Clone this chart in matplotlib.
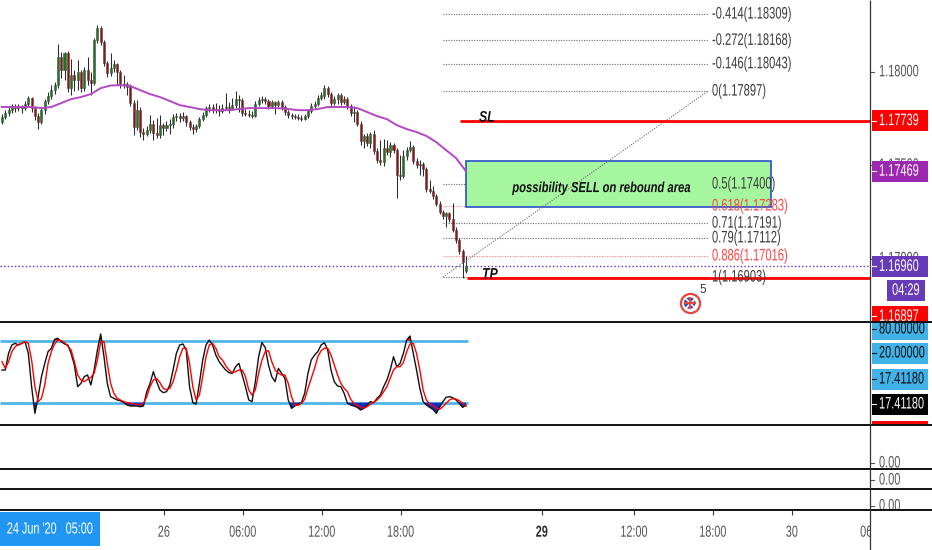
import numpy as np
import matplotlib
matplotlib.use("Agg")
import matplotlib.pyplot as plt
from matplotlib.patches import Rectangle
from matplotlib.patheffects import AbstractPathEffect
from matplotlib.transforms import Affine2D

plt.rcParams['font.family'] = ['Liberation Sans', 'DejaVu Sans']

# ---------------- data (EURUSD 15m) ----------------
opens = [
    1.17731, 1.17758, 1.17779, 1.17795, 1.17812, 1.17806, 1.17817, 1.17806, 1.17828, 1.17860,
    1.17806, 1.17763, 1.17731, 1.17795, 1.17844, 1.17870, 1.17902, 1.17929, 1.18079, 1.18009,
    1.18100, 1.17913, 1.17983, 1.17956, 1.17999, 1.17913, 1.18009, 1.17956, 1.17940, 1.18170,
    1.18234, 1.18159, 1.18047, 1.17993, 1.18020, 1.18042, 1.17999, 1.17929, 1.17935, 1.17919,
    1.17833, 1.17705, 1.17795, 1.17678, 1.17667, 1.17688, 1.17721, 1.17672, 1.17662, 1.17715,
    1.17699, 1.17715, 1.17721, 1.17758, 1.17763, 1.17753, 1.17763, 1.17731, 1.17705, 1.17694,
    1.17710, 1.17747, 1.17769, 1.17806, 1.17812, 1.17795, 1.17801, 1.17790, 1.17806, 1.17812,
    1.17806, 1.17822, 1.17854, 1.17849, 1.17779, 1.17774, 1.17769, 1.17763, 1.17828, 1.17849,
    1.17854, 1.17844, 1.17817, 1.17838, 1.17822, 1.17838, 1.17812, 1.17785, 1.17769, 1.17763,
    1.17758, 1.17753, 1.17747, 1.17763, 1.17790, 1.17817, 1.17828, 1.17860, 1.17870, 1.17913,
    1.17881, 1.17833, 1.17854, 1.17876, 1.17838, 1.17854, 1.17817, 1.17779, 1.17785, 1.17721,
    1.17630, 1.17656, 1.17619, 1.17667, 1.17576, 1.17528, 1.17517, 1.17592, 1.17571, 1.17608,
    1.17581, 1.17448, 1.17442, 1.17549, 1.17581, 1.17598, 1.17523, 1.17501, 1.17507, 1.17480,
    1.17373, 1.17362, 1.17335, 1.17293, 1.17250, 1.17228, 1.17244, 1.17212, 1.17153, 1.17100,
    1.17041, 1.16935,
]
highs = [
    1.17774, 1.17795, 1.17812, 1.17828, 1.17828, 1.17828, 1.17822, 1.17844, 1.17870, 1.17865,
    1.17817, 1.17779, 1.17806, 1.17854, 1.17892, 1.17929, 1.17945, 1.18149, 1.18106, 1.18106,
    1.18111, 1.18068, 1.18009, 1.18063, 1.18009, 1.18026, 1.18079, 1.17999, 1.18181, 1.18250,
    1.18245, 1.18170, 1.18058, 1.18100, 1.18063, 1.18047, 1.18009, 1.17983, 1.17945, 1.17935,
    1.17849, 1.17849, 1.17812, 1.17699, 1.17710, 1.17769, 1.17742, 1.17753, 1.17769, 1.17726,
    1.17737, 1.17747, 1.17774, 1.17779, 1.17779, 1.17785, 1.17769, 1.17742, 1.17721, 1.17721,
    1.17758, 1.17785, 1.17817, 1.17828, 1.17828, 1.17833, 1.17822, 1.17828, 1.17886, 1.17838,
    1.17860, 1.17897, 1.17876, 1.17860, 1.17801, 1.17795, 1.17790, 1.17844, 1.17865, 1.17870,
    1.17865, 1.17854, 1.17849, 1.17844, 1.17849, 1.17849, 1.17822, 1.17795, 1.17779, 1.17774,
    1.17774, 1.17769, 1.17774, 1.17801, 1.17833, 1.17844, 1.17876, 1.17892, 1.17929, 1.17924,
    1.17892, 1.17870, 1.17886, 1.17886, 1.17870, 1.17865, 1.17828, 1.17817, 1.17795, 1.17737,
    1.17667, 1.17672, 1.17678, 1.17688, 1.17592, 1.17635, 1.17640, 1.17635, 1.17624, 1.17619,
    1.17592, 1.17555, 1.17581, 1.17598, 1.17630, 1.17608, 1.17539, 1.17528, 1.17517, 1.17491,
    1.17421, 1.17389, 1.17346, 1.17309, 1.17260, 1.17250, 1.17250, 1.17298, 1.17170, 1.17111,
    1.17052, 1.17014,
]
lows = [
    1.17721, 1.17747, 1.17763, 1.17779, 1.17785, 1.17790, 1.17779, 1.17795, 1.17817, 1.17785,
    1.17742, 1.17694, 1.17721, 1.17774, 1.17828, 1.17854, 1.17881, 1.17913, 1.17967, 1.17956,
    1.17892, 1.17876, 1.17897, 1.17902, 1.17892, 1.17897, 1.17929, 1.17876, 1.17929, 1.18154,
    1.18143, 1.18031, 1.17972, 1.17977, 1.17999, 1.17935, 1.17913, 1.17913, 1.17876, 1.17817,
    1.17662, 1.17688, 1.17651, 1.17635, 1.17656, 1.17672, 1.17635, 1.17646, 1.17646, 1.17662,
    1.17683, 1.17667, 1.17699, 1.17737, 1.17731, 1.17737, 1.17710, 1.17688, 1.17667, 1.17678,
    1.17699, 1.17737, 1.17758, 1.17785, 1.17779, 1.17779, 1.17763, 1.17779, 1.17795, 1.17779,
    1.17795, 1.17806, 1.17785, 1.17763, 1.17763, 1.17758, 1.17753, 1.17758, 1.17817, 1.17833,
    1.17828, 1.17801, 1.17806, 1.17774, 1.17812, 1.17795, 1.17769, 1.17753, 1.17747, 1.17747,
    1.17742, 1.17737, 1.17742, 1.17753, 1.17779, 1.17806, 1.17817, 1.17849, 1.17854, 1.17865,
    1.17817, 1.17822, 1.17828, 1.17822, 1.17828, 1.17801, 1.17763, 1.17731, 1.17710, 1.17608,
    1.17592, 1.17603, 1.17592, 1.17560, 1.17512, 1.17501, 1.17496, 1.17555, 1.17544, 1.17565,
    1.17325, 1.17421, 1.17432, 1.17528, 1.17571, 1.17507, 1.17485, 1.17448, 1.17442, 1.17357,
    1.17352, 1.17319, 1.17282, 1.17239, 1.17212, 1.17170, 1.17196, 1.17143, 1.17084, 1.17025,
    1.16897, 1.16925,
]
closes = [
    1.17758, 1.17779, 1.17795, 1.17812, 1.17806, 1.17817, 1.17806, 1.17828, 1.17860, 1.17806,
    1.17763, 1.17731, 1.17795, 1.17844, 1.17870, 1.17902, 1.17929, 1.18079, 1.18009, 1.18100,
    1.17913, 1.17983, 1.17956, 1.17999, 1.17913, 1.18009, 1.17956, 1.17940, 1.18170, 1.18234,
    1.18159, 1.18047, 1.17993, 1.18020, 1.18042, 1.17999, 1.17929, 1.17935, 1.17919, 1.17833,
    1.17705, 1.17795, 1.17678, 1.17667, 1.17688, 1.17721, 1.17672, 1.17662, 1.17715, 1.17699,
    1.17715, 1.17721, 1.17758, 1.17763, 1.17753, 1.17763, 1.17731, 1.17705, 1.17694, 1.17710,
    1.17747, 1.17769, 1.17806, 1.17812, 1.17795, 1.17801, 1.17790, 1.17806, 1.17812, 1.17806,
    1.17822, 1.17854, 1.17849, 1.17779, 1.17774, 1.17769, 1.17763, 1.17828, 1.17849, 1.17854,
    1.17844, 1.17817, 1.17838, 1.17822, 1.17838, 1.17812, 1.17785, 1.17769, 1.17763, 1.17758,
    1.17753, 1.17747, 1.17763, 1.17790, 1.17817, 1.17828, 1.17860, 1.17876, 1.17913, 1.17881,
    1.17833, 1.17854, 1.17876, 1.17838, 1.17854, 1.17817, 1.17779, 1.17785, 1.17721, 1.17630,
    1.17656, 1.17619, 1.17667, 1.17576, 1.17528, 1.17517, 1.17592, 1.17571, 1.17608, 1.17581,
    1.17448, 1.17442, 1.17549, 1.17581, 1.17598, 1.17523, 1.17501, 1.17507, 1.17480, 1.17373,
    1.17362, 1.17335, 1.17293, 1.17250, 1.17228, 1.17244, 1.17212, 1.17153, 1.17100, 1.17041,
    1.16982, 1.16960,
]
# moving average, sampled every 3rd bar
ma_step = 3
ma_values = [
    1.17812, 1.17812, 1.17812, 1.17812, 1.17806, 1.17812, 1.17833, 1.17854, 1.17865, 1.17881,
    1.17913, 1.17927, 1.17929, 1.17924, 1.17902, 1.17881, 1.17865, 1.17844, 1.17822, 1.17812,
    1.17801, 1.17795, 1.17795, 1.17795, 1.17801, 1.17806, 1.17806, 1.17806, 1.17806, 1.17801,
    1.17795, 1.17795, 1.17801, 1.17812, 1.17812, 1.17812, 1.17806, 1.17785, 1.17763, 1.17747,
    1.17715, 1.17694, 1.17678, 1.17657, 1.17624, 1.17581, 1.17539, 1.17469,
]
stoch_k = [
    51.6, 51.6, 67.7, 75.8, 77.4, 75.8, 77.4, 79.0, 67.7, 35.5,
    9.7, 25.8, 45.2, 58.1, 69.4, 72.6, 81.3, 82.3, 79.0, 76.8,
    75.8, 67.7, 56.4, 35.5, 38.7, 45.2, 46.8, 37.1, 51.6, 71.0,
    86.5, 64.5, 38.7, 25.8, 24.2, 22.6, 21.9, 20.0, 17.7, 16.8,
    16.8, 16.8, 16.1, 16.8, 30.6, 38.7, 50.0, 40.3, 32.3, 29.7,
    30.6, 37.1, 51.6, 67.7, 75.8, 76.8, 71.0, 35.5, 20.0, 18.7,
    38.7, 61.3, 75.8, 80.6, 75.8, 66.1, 59.7, 55.5, 51.6, 49.0,
    48.4, 54.8, 58.1, 46.8, 35.5, 22.6, 21.0, 40.3, 64.5, 78.1,
    73.5, 56.4, 45.2, 40.3, 53.2, 48.4, 43.5, 22.6, 14.5, 16.8,
    18.7, 20.0, 29.0, 48.4, 61.3, 66.1, 69.4, 75.8, 78.1, 71.0,
    51.6, 40.3, 36.1, 35.5, 29.0, 19.4, 17.7, 16.8, 15.5, 12.9,
    14.5, 17.7, 21.0, 20.0, 24.2, 27.4, 35.5, 41.9, 51.6, 64.5,
    54.8, 58.1, 67.7, 80.6, 84.5, 67.7, 51.6, 33.9, 21.0, 17.7,
    15.5, 13.5, 9.7, 15.5, 21.0, 25.2, 25.8, 24.8, 22.6, 19.4,
    15.5, 17.4118,
]
stoch_d = [
    59.7, 53.2, 59.7, 69.4, 74.2, 76.4, 77.4, 79.0, 77.4, 61.3,
    35.5, 21.0, 24.2, 37.1, 58.1, 69.4, 76.8, 80.6, 80.0, 78.1,
    74.8, 71.0, 59.7, 46.8, 41.9, 40.3, 42.6, 44.5, 48.4, 61.3,
    79.0, 79.0, 58.1, 38.7, 29.0, 24.2, 22.6, 21.0, 20.0, 19.4,
    18.7, 18.1, 17.7, 19.4, 25.8, 35.5, 41.9, 43.5, 39.4, 33.9,
    32.3, 33.9, 40.3, 51.6, 64.5, 72.6, 72.6, 58.1, 35.5, 22.6,
    27.4, 45.2, 64.5, 75.8, 77.4, 72.6, 64.5, 61.3, 55.8, 51.6,
    49.0, 50.0, 51.6, 51.6, 45.2, 32.3, 27.4, 32.3, 48.4, 61.3,
    69.4, 70.3, 59.7, 51.6, 48.4, 46.8, 46.8, 38.7, 25.8, 17.7,
    17.4, 19.4, 23.2, 33.9, 43.5, 53.2, 64.5, 70.3, 72.6, 72.6,
    66.1, 56.4, 46.8, 38.7, 33.9, 30.6, 23.2, 19.4, 17.1, 15.5,
    14.8, 16.1, 18.7, 20.3, 22.6, 25.8, 30.6, 35.5, 43.5, 51.6,
    54.8, 54.8, 58.7, 69.4, 76.8, 77.4, 67.7, 51.6, 32.3, 22.6,
    18.7, 16.8, 14.8, 13.5, 16.1, 19.4, 22.6, 23.9, 23.5, 21.9,
    19.4, 16.5076,
]
band_hi, band_lo = 80.0, 20.0

fib_ratios = [-0.414, -0.272, -0.146, 0, 0.5, 0.618, 0.71, 0.79, 0.886, 1]
fib_prices = [1.18309, 1.18168, 1.18043, 1.17897, 1.17400, 1.17283, 1.17191, 1.17112, 1.17016, 1.16903]
fib_red_ratios = [0.618, 0.886]
sl_price = 1.17739
tp_price = 1.16900
zone_low, zone_high = 1.17277, 1.17523
zone_text = "possibility SELL on rebound area"
price_ticks = [1.170, 1.175, 1.180]
time_labels = ['26', '06:00', '12:00', '18:00', '29', '12:00', '18:00', '30', '06:00']
time_label_bars = [49.2, 73.2, 97.2, 121.2, 164.1, 192.1, 216.1, 240.1, 265.0]
bold_time_labels = ['29']
countdown = "04:29"
cursor_date = "24 Jun '20   05:00"
event_bar, event_price, event_count = 209.0, 1.16764, "5"

# ---------------- layout ----------------
W, H = 932, 550
BAR_PX, FIRST_PX = 3.29, 2.0
PX_AXIS = 870
P_TOP, PX_PER_PRICE = 1.18384, 18705.0
fib_x0, fib_x1, fib_label_x = 134.0, 214.6, 215.8
zone_x0, zone_x1, zone_text_x = 141.0, 233.7, 182.3
sl_x0, tp_x0 = 139.2, 141.3
sl_text_x, tp_text_x = 147.4, 148.3
SCALE_FS, SCALE_SX = 12, 0.66


class Squeeze(AbstractPathEffect):
    """Condense glyphs horizontally (TradingView-like narrow font)."""

    def __init__(self, sx=0.78, anchor='left'):
        super().__init__()
        self.sx = sx
        self.anchor = anchor

    def draw_path(self, renderer, gc, tpath, affine, rgbFace=None):
        xs = tpath.vertices[:, 0] if len(tpath.vertices) else np.array([0.0])
        if self.anchor == 'center':
            cx = (xs.min() + xs.max()) / 2
        elif self.anchor == 'right':
            cx = xs.max()
        else:
            cx = xs.min()
        t = Affine2D().translate(-cx, 0).scale(self.sx, 1).translate(cx, 0)
        renderer.draw_path(gc, tpath, t + affine, rgbFace)


def sq(sx=0.78, anchor='left'):
    return [Squeeze(sx, anchor)]


fig = plt.figure(figsize=(W / 100, H / 100), dpi=100)


def ax_px(x0, y0, x1, y1, **kw):
    a = fig.add_axes([x0 / W, 1 - y1 / H, (x1 - x0) / W, (y1 - y0) / H], **kw)
    for s in a.spines.values():
        s.set_visible(False)
    a.set_xticks([])
    a.set_yticks([])
    return a


xlim = (-FIRST_PX / BAR_PX, (PX_AXIS - FIRST_PX) / BAR_PX)
ax = ax_px(0, 0, PX_AXIS, 322)
ax_st = ax_px(0, 322, PX_AXIS, 425)
ax3 = ax_px(0, 425, PX_AXIS, 469)
ax4 = ax_px(0, 469, PX_AXIS, 489)
ax5 = ax_px(0, 489, PX_AXIS, 510)
for a in (ax, ax_st, ax3, ax4, ax5):
    a.set_xlim(*xlim)
ax.set_ylim(P_TOP - 322 / PX_PER_PRICE, P_TOP)
ax_st.set_ylim(100 - 0.9677 * (425 - 320), 100 - 0.9677 * (322 - 320))

o = np.array(opens); h = np.array(highs); l = np.array(lows); c = np.array(closes)
idx = np.arange(len(c))
up = c >= o

# candles
ax.vlines(idx, l, h, color='#2b2b2b', lw=0.75, zorder=2)
body_lo = np.minimum(o, c)
body_h = np.maximum(np.abs(c - o), 0.00002)
ax.bar(idx, body_h, bottom=body_lo, width=0.62,
       color=np.where(up, '#177a17', '#9b0e0e'), edgecolor='#4a4a4a',
       linewidth=0.4, zorder=3)

# moving average
ma_bars = np.arange(0, len(c), ma_step)
ax.plot(ma_bars, ma_values, color='#b447c4', lw=1.4, zorder=4)

# current price dotted line
ax.axhline(c[-1], color='#5b2fd0', lw=1.0, ls=(0, (1, 1.6)), zorder=1)

# fibonacci retracement
for r, p in zip(fib_ratios, fib_prices):
    red = r in fib_red_ratios
    ax.hlines(p, fib_x0, fib_x1, colors='#ff7b7b' if red else '#6a6a6a',
              linestyles=(0, (1, 1.3)), lw=0.8, zorder=1)
    ax.text(fib_label_x, p, f"{r:g}({p:.5f})", va='center', ha='left',
            fontsize=12, color='#ff4444' if red else '#3c3c3c', zorder=8,
            path_effects=sq(0.67))
ax.plot([fib_x0, fib_x1], [fib_prices[-1], fib_prices[3]], color='#6a6a6a',
        ls=(0, (1, 1.3)), lw=0.8, zorder=5)

# sell zone
ax.add_patch(Rectangle((zone_x0, zone_low), zone_x1 - zone_x0, zone_high - zone_low,
                       facecolor='#a6f6a0', edgecolor='#2a50c8', lw=1.2, zorder=2.5))
ax.text(zone_text_x, (zone_low + zone_high) / 2 - 4 / PX_PER_PRICE, zone_text,
        ha='center', va='center', fontsize=10.5, fontweight='bold', fontstyle='italic',
        color='#111111', zorder=9, path_effects=sq(0.77, 'center'))

# SL / TP
ax.hlines(sl_price, sl_x0, xlim[1] + 5, colors='#ff0000', lw=2.0, zorder=6)
ax.hlines(tp_price, tp_x0, xlim[1] + 5, colors='#ff0000', lw=2.0, zorder=6)
ax.text(sl_text_x, sl_price + 3 / PX_PER_PRICE, 'SL', ha='center', va='center',
        fontsize=11, fontweight='bold', fontstyle='italic', color='#111111', zorder=9,
        path_effects=sq(0.8, 'center'))
ax.text(tp_text_x, tp_price + 3 / PX_PER_PRICE, 'TP', ha='center', va='center',
        fontsize=11, fontweight='bold', fontstyle='italic', color='#111111', zorder=9,
        path_effects=sq(0.8, 'center'))

# economic event marker
ax.scatter([event_bar], [event_price], s=190, facecolor='white', edgecolor='#e8463c', lw=1.6, zorder=9)
ax.scatter([event_bar], [event_price], s=70, facecolor='#3a4fa8', edgecolor='none', zorder=10)
ax.scatter([event_bar], [event_price], s=70, marker='x', color='white', lw=1.2, zorder=11)
ax.scatter([event_bar], [event_price], s=70, marker='+', color='#e8463c', lw=1.4, zorder=12)
ax.annotate(event_count, (event_bar, event_price), xytext=(7, 7), textcoords='offset points',
            fontsize=8.5, color='#333333', zorder=12)

# stochastic
k = np.array(stoch_k); d = np.array(stoch_d)
ax_st.hlines([band_hi, band_lo], xlim[0], idx[-1] + 0.5, colors='#4fb6ea', lw=2.0, zorder=1)
ax_st.fill_between(idx, k, band_lo, where=k < band_lo, interpolate=True, color='#1131c4', lw=0, zorder=2)
ax_st.fill_between(idx, k, band_hi, where=k > band_hi, interpolate=True, color='#ff0000', lw=0, zorder=2)
ax_st.plot(idx, k, color='#111111', lw=1.0, zorder=3)
ax_st.plot(idx, d, color='#ff0000', lw=1.0, zorder=4)

# time axis
ax5.set_xticks([b for b in time_label_bars if xlim[0] <= b <= xlim[1]])
ax5.set_xticklabels([])
ax5.tick_params(axis='x', length=3.5, width=0.8, color='#333333', direction='out')
for lab, b in zip(time_labels, time_label_bars):
    ax5.annotate(lab, xy=(b, 0), xycoords=('data', 'axes fraction'), xytext=(0, -16),
                 textcoords='offset points', ha='center', va='center', fontsize=11.5,
                 color='#2e2e2e' if lab in bold_time_labels else '#555555',
                 fontweight='bold' if lab in bold_time_labels else 'normal',
                 annotation_clip=False, path_effects=sq(0.68, 'center'))

# right price-scale column (white, covers overflow)
rax = ax_px(PX_AXIS, 0, W, H)
rax.set_facecolor('white')


def label_axes(y0, y1, ylim):
    a = ax_px(PX_AXIS, y0, W, y1)
    a.patch.set_alpha(0)
    a.set_xlim(0, W - PX_AXIS)
    a.set_ylim(*ylim)
    return a


def px_h(a, px):
    y0, y1 = a.get_ylim()
    return px * (y1 - y0) / (a.get_position().height * H)


def scale_text(a, yc, txt, color='#555555'):
    a.plot([0, 4], [yc, yc], color='#555555', lw=0.8, zorder=2, clip_on=True)
    a.text(9, yc, txt, va='center', ha='left', fontsize=SCALE_FS, color=color, zorder=3,
           clip_on=True, path_effects=sq(SCALE_SX))


def scale_box(a, yc, txt, fc, tc='white', hpx=21, x0=1.5, x1=57.5, center=False):
    hh = px_h(a, hpx)
    a.add_patch(Rectangle((x0, yc - hh / 2), x1 - x0, hh, facecolor=fc, edgecolor='none', zorder=5))
    if not center:
        a.plot([x0, x0 + 4], [yc, yc], color=tc, lw=0.8, zorder=6, clip_on=True)
        a.text(9, yc, txt, va='center', ha='left', fontsize=SCALE_FS, color=tc, zorder=7,
               clip_on=True, path_effects=sq(SCALE_SX))
    else:
        a.text((x0 + x1) / 2, yc, txt, va='center', ha='center', fontsize=SCALE_FS, color=tc,
               zorder=7, clip_on=True, path_effects=sq(SCALE_SX, 'center'))


lax = label_axes(0, 322, ax.get_ylim())
for p in price_ticks:
    scale_text(lax, p, f"{p:.5f}")
scale_box(lax, sl_price, f"{sl_price:.5f}", '#ff0000')
scale_box(lax, ma_values[-1], f"{ma_values[-1]:.5f}", '#9c27b0')
scale_box(lax, c[-1], f"{c[-1]:.5f}", '#673ab7')
scale_box(lax, c[-1] - 24 / PX_PER_PRICE, countdown, '#673ab7', x0=17, x1=55, center=True)
scale_box(lax, c[-1] - 50 / PX_PER_PRICE, f"{l.min():.5f}", '#ff0000')

lax_st = label_axes(322, 425, (425, 322))
scale_box(lax_st, 329, f"{band_hi:.5f}", '#40b2e8', tc='#111111')
scale_box(lax_st, 353, f"{band_lo:.5f}", '#40b2e8', tc='#111111')
scale_box(lax_st, 379, f"{k[-1]:.5f}", '#40b2e8', tc='#111111')
scale_box(lax_st, 404, f"{k[-1]:.5f}", '#000000', tc='white')
scale_box(lax_st, 431, f"{d[-1]:.5f}", '#ff0000', tc='white')

for (y0, y1, yc) in [(425, 469, 463), (469, 489, 480), (489, 510, 506)]:
    la = label_axes(y0, y1, (y1, y0))
    scale_text(la, yc, "0.00")

# overlay: separators, axis line, cursor date box
ov = ax_px(0, 0, W, H)
ov.patch.set_alpha(0)
ov.set_xlim(0, W)
ov.set_ylim(H, 0)
for yy in (322, 425, 469, 489, 510):
    ov.hlines(yy, 0, W, colors='#111111', lw=1.4)
ov.vlines(PX_AXIS, 0, H, colors='#333333', lw=0.9)
ov.add_patch(Rectangle((0, 512), 100, 34, facecolor='#2196f3', edgecolor='none'))
ov.text(50, 529, cursor_date, color='white', ha='center', va='center', fontsize=11.5,
        path_effects=sq(0.68, 'center'))

fig.savefig('out.png', dpi=100)
